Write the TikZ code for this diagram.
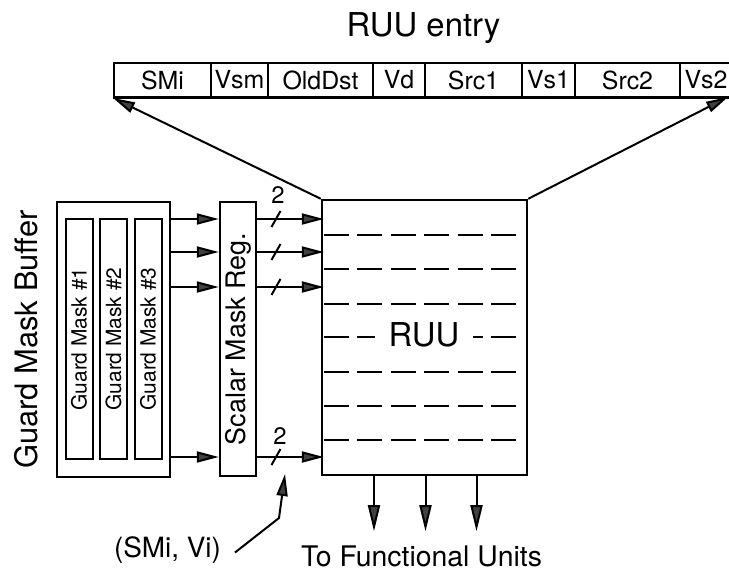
\documentclass[tikz,border=0pt]{standalone}
\usepackage{fontspec}
\setmainfont{TeX Gyre Heros}
\usetikzlibrary{arrows.meta,positioning}
\newcommand{\fsz}[1]{\fontsize{#1}{#1}\selectfont}

\begin{document}
\begin{tikzpicture}[x=1bp, y=-1bp, line width=2bp,
    box/.style={draw, rectangle, line width=2.4bp, inner sep=0pt},
    cell/.style={draw, rectangle, inner sep=0pt, minimum height=34bp, font=\fsz{25}},
    gmask/.style={draw, rectangle, rotate=90, inner sep=0pt, minimum width=240bp, minimum height=27bp, font=\fsz{21}},
    sig/.style={-{Triangle[length=22bp, width=11bp, fill=black!75]}},
    fuarrow/.style={-{Triangle[length=26bp, width=12bp, fill=black!75]}},
    row/.style={dash pattern=on 25bp off 8.5bp}]
  \useasboundingbox (0,0) rectangle (729,571);

  \node[anchor=base, font=\fsz{33}] (title) at (423.5,37) {RUU entry};
  \node[cell, minimum width=97bp] (smi) at (162.5,80) {SMi};
  \node[cell, minimum width=57bp] (vsm) at (239.5,80) {Vsm};
  \node[cell, minimum width=105bp] (olddst) at (320.5,80) {OldDst};
  \node[cell, minimum width=52bp] (vd) at (399,80) {Vd};
  \node[cell, minimum width=97bp] (src1) at (473.5,80) {Src1};
  \node[cell, minimum width=53bp] (vs1) at (548.5,80) {Vs1};
  \node[cell, minimum width=105bp] (src2) at (627.5,80) {Src2};
  \node[cell, minimum width=52bp] (vs2) at (706,80) {Vs2};
  \draw[line width=3bp] (smi.south west) -- (vs2.south east);

  \node[box, minimum width=113bp, minimum height=275bp] (gmb) at (113.5,339.5) {};
  \node[rotate=90, font=\fsz{31}] (gmblbl) at ([xshift=-30bp]gmb.west) {Guard Mask Buffer};
  \node[gmask] (gm1) at (79,339) {Guard Mask \#1};
  \node[gmask] (gm2) at (113.5,339) {Guard Mask \#2};
  \node[gmask] (gm3) at (148,339) {Guard Mask \#3};

  \node[box, minimum width=36bp, minimum height=274bp] (smr) at (238,339) {};
  \node[rotate=90, font=\fsz{27}] (smrlbl) at (smr) {Scalar Mask Reg.};

  \node[box, minimum width=205bp, minimum height=275bp] (ruu) at (424.5,337.5) {};
  \foreach \y in {235,269,304,337,372,406,440}
    \draw[row] ([xshift=3bp]ruu.west |- 0,\y) -- (518,\y);
  \node[fill=white, inner xsep=14bp, inner ysep=1bp, font=\fsz{33}] (ruulbl) at (424,335) {RUU};

  \foreach \y in {219,252,287,457} {
    \draw[sig] (gmb.east |- 0,\y) -- (smr.west |- 0,\y);
    \draw[sig] (smr.east |- 0,\y) -- ([xshift=3bp]ruu.west |- 0,\y);
    \draw (271.5,\y+8) -- (280.5,\y-8);
  }
  \node[font=\fsz{24}] (two1) at (278,195) {2};
  \node[font=\fsz{24}] (two2) at (280,436) {2};

  \coordinate (entryend) at (728,97);
  \draw[sig] (ruu.north west) -- (smi.south west);
  \draw[sig] (ruu.north east) -- (entryend);

  \node[anchor=base, inner sep=1bp, font=\fsz{28.5}] (fu) at (421.5,566) {To Functional Units};
  \foreach \x in {374,425.5,476.5}
    \draw[fuarrow] (ruu.south -| \x,0) -- ++(0,55);

  \node[anchor=base, inner sep=1bp, font=\fsz{28}] (smivi) at (167.5,557) {(SMi, Vi)};
  \draw[sig] ([xshift=12bp,yshift=-3bp]smivi.east) -- (279,518) -- (285,474);
\end{tikzpicture}
\end{document}
